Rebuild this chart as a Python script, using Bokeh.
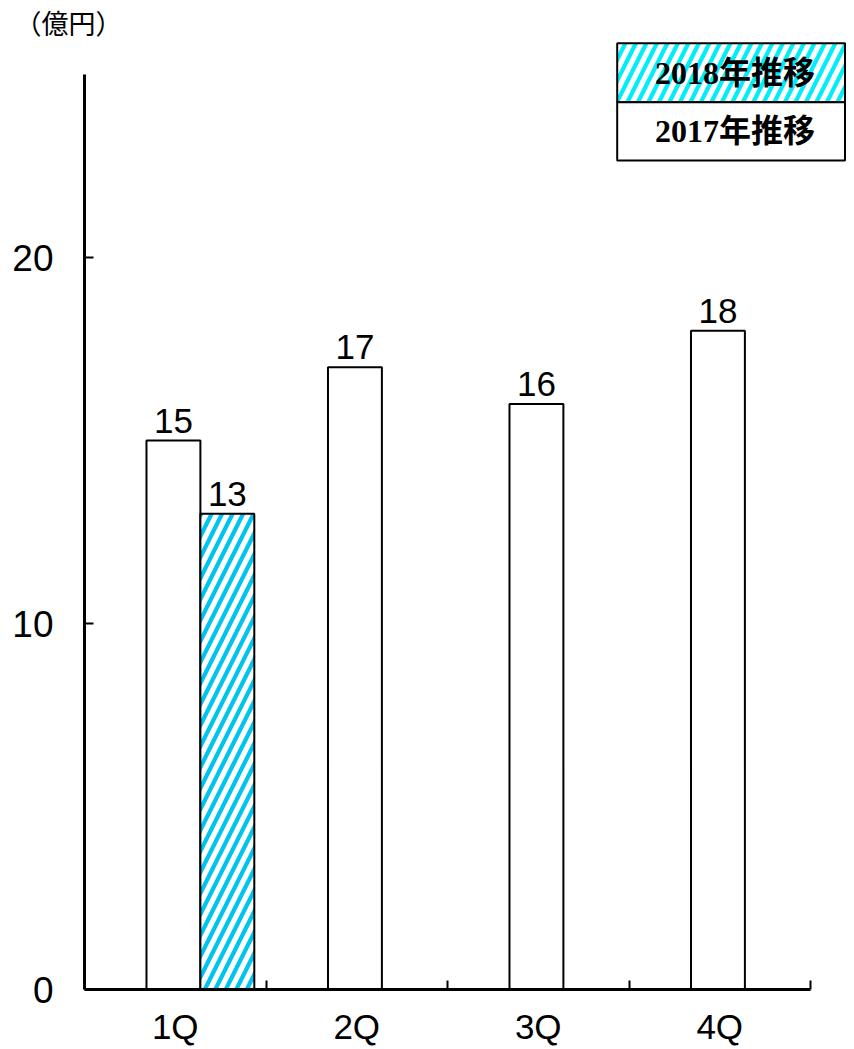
from bokeh.plotting import figure
from bokeh.models import Range1d, FixedTicker, Title, ColumnDataSource
from bokeh.core.properties import value
from bokeh.embed import file_html
from bokeh.resources import INLINE

# ---- data ----
quarters = ["1Q", "2Q", "3Q", "4Q"]
sales_2017 = [15, 17, 16, 18]
sales_2018 = [13]  # only 1Q reported so far
y_ticks = [0, 10, 20]
legend_labels = ["2018年推移", "2017年推移"]
unit_label = "（億円）"

# ---- style / layout constants ----
PX_X = 181.5   # pixels per category
PX_Y = 36.6    # pixels per 1 億円
LEFT = 84
TOP = 40
BOTTOM = 988
FIG_W = 846
FIG_H = 1041
FRAME_W = FIG_W - LEFT
FRAME_H = BOTTOM - TOP
SANS = "Liberation Sans"
SERIF = "Liberation Serif, Noto Sans CJK JP"
BAR_W = 0.297
OFF_17 = -0.01
OFF_18 = 0.287
HATCH_BAR = "#00C4F0"
HATCH_LEG = "#00EEFA"
HATCH_SCALE = 21
HATCH_WEIGHT = 4.2

p = figure(width=FIG_W, height=FIG_H, output_backend="svg", toolbar_location=None,
           x_range=Range1d(0, FRAME_W / PX_X), y_range=Range1d(0, FRAME_H / PX_Y),
           min_border_left=LEFT, min_border_right=0, min_border_top=TOP,
           min_border_bottom=FIG_H - BOTTOM,
           frame_width=FRAME_W, frame_height=FRAME_H)
p.outline_line_color = None
p.xgrid.visible = False
p.ygrid.visible = False
p.background_fill_color = "white"
p.border_fill_color = "white"

p.title = Title(text=unit_label, align="left", offset=14 - LEFT, standoff=0,
                text_font="Noto Sans CJK JP", text_font_size="27px",
                text_font_style="normal", text_color="black")

n = len(quarters)
x17 = [i + 0.5 + OFF_17 for i in range(n)]
x18 = [i + 0.5 + OFF_18 for i in range(len(sales_2018))]

src17 = ColumnDataSource(dict(x=x17, top=sales_2017, lab=[str(v) for v in sales_2017]))
src18 = ColumnDataSource(dict(x=x18, top=sales_2018, lab=[str(v) for v in sales_2018]))

p.vbar(x="x", top="top", bottom=0, width=BAR_W, source=src17,
       fill_color="white", line_color="black", line_width=2)
p.vbar(x="x", top="top", bottom=0, width=BAR_W, source=src18,
       fill_color="white", line_color="black", line_width=2,
       hatch_pattern="/", hatch_color=HATCH_BAR, hatch_scale=HATCH_SCALE,
       hatch_weight=HATCH_WEIGHT)

for src in (src17, src18):
    p.text(x="x", y="top", text="lab", source=src, text_align="center",
           text_baseline="bottom", y_offset=-8, text_font=value(SANS),
           text_font_size="35px", text_color="black")

# ---- axes ----
ax = p.xaxis[0]
ax.ticker = FixedTicker(ticks=[i + 0.5 for i in range(n)], minor_ticks=list(range(1, n + 1)))
ax.major_label_overrides = {i + 0.5: q for i, q in enumerate(quarters)}
ax.major_tick_in = 0
ax.major_tick_out = 0
ax.minor_tick_in = 9
ax.minor_tick_out = 0
ax.minor_tick_line_width = 2
ax.minor_tick_line_color = "black"
ax.axis_line_width = 3
ax.axis_line_color = "black"
ax.bounds = (0, n)
ax.major_label_text_font = SANS
ax.major_label_text_font_size = "35px"
ax.major_label_text_color = "black"
ax.major_label_standoff = 17

ay = p.yaxis[0]
ay.ticker = FixedTicker(ticks=y_ticks)
ay.major_tick_in = 9
ay.major_tick_out = 0
ay.major_tick_line_width = 2
ay.major_tick_line_color = "black"
ay.minor_tick_line_color = None
ay.axis_line_width = 3
ay.axis_line_color = "black"
ay.bounds = (0, 25)
ay.major_label_text_font = SANS
ay.major_label_text_font_size = "37px"
ay.major_label_text_color = "black"
ay.major_label_standoff = 31

# ---- legend box (drawn as a table-like box) ----
lx0 = (616.7 - LEFT) / PX_X
lx1 = (FIG_W - 1.5 - LEFT) / PX_X
lxc = (734.5 - LEFT) / PX_X
ly = [(BOTTOM - 41.7) / PX_Y, (BOTTOM - 100.7) / PX_Y, (BOTTOM - 159) / PX_Y]
p.quad(left=[lx0], right=[lx1], top=[ly[0]], bottom=[ly[1]], fill_color="white",
       line_color="black", line_width=2, hatch_pattern="/", hatch_color=HATCH_LEG,
       hatch_scale=HATCH_SCALE, hatch_weight=HATCH_WEIGHT)
p.quad(left=[lx0], right=[lx1], top=[ly[1]], bottom=[ly[2]], fill_color="white",
       line_color="black", line_width=2)
p.text(x=[lxc] * 2, y=[(ly[0] + ly[1]) / 2, (ly[1] + ly[2]) / 2],
       text=legend_labels, text_align="center", text_baseline="middle",
       text_font=value(SERIF), text_font_style="bold", text_font_size="32px",
       text_color="black")

open("out.html", "w").write(file_html(p, INLINE))
